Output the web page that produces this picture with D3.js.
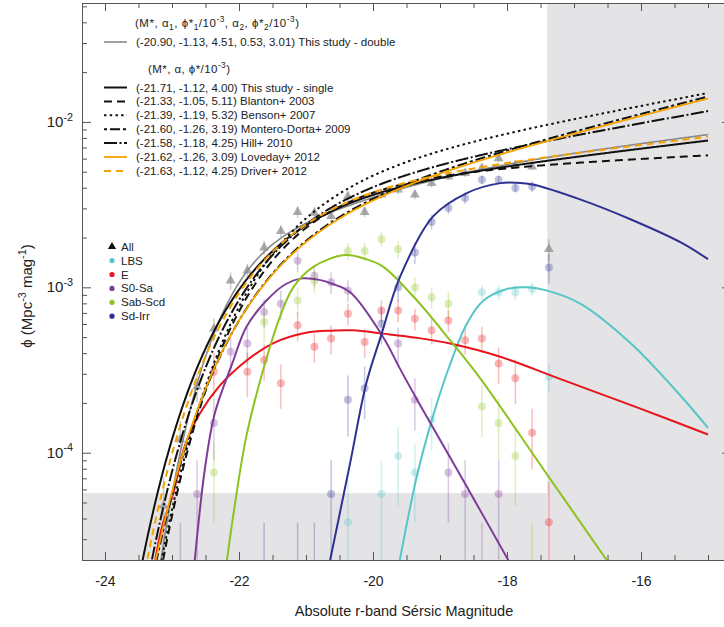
<!DOCTYPE html>
<html>
<head>
<meta charset="utf-8">
<script src="https://cdn.jsdelivr.net/npm/d3@7"></script>
<style>
  body { margin: 0; background: #fff; }
  text { font-family: "Liberation Sans", Arial, Helvetica, sans-serif; fill: #222; }
</style>
</head>
<body>
<svg id="chart" width="724" height="627"></svg>
<script>
// ---- published Schechter fits (legend values) ----
const fitNames = ["This study - single", "Blanton+ 2003", "Benson+ 2007", "Montero-Dorta+ 2009", "Hill+ 2010", "Loveday+ 2012", "Driver+ 2012"];
const fitMstar = [-21.71, -21.33, -21.39, -21.60, -21.58, -21.62, -21.63];
const fitAlpha = [-1.12, -1.05, -1.19, -1.26, -1.18, -1.26, -1.12];
const fitPhiStar = [4.00, 5.11, 5.32, 3.19, 4.25, 3.09, 4.25];   // x 1e-3
// double Schechter: M*, alpha1, phi1*/1e-3, alpha2, phi2*/1e-3
const doubleFit = [-20.90, -1.13, 4.51, 0.53, 3.01];

// ---- morphology fits (M, log10 phi) ----
const lbsCurve = [[-19.60, -4.65], [-19.35, -4.15], [-19.12, -3.80], [-18.88, -3.50], [-18.60, -3.22], [-18.35, -3.08], [-18.00, -3.01], [-17.70, -3.00], [-17.40, -3.02], [-16.90, -3.10], [-16.15, -3.34], [-15.40, -3.66], [-15.00, -3.85]];
const eCurve = [[-23.25, -4.65], [-23.15, -4.45], [-22.98, -4.245], [-22.81, -3.96], [-22.58, -3.76], [-22.30, -3.60], [-22.00, -3.48], [-21.50, -3.34], [-21.00, -3.275], [-20.60, -3.262], [-20.30, -3.26], [-19.85, -3.28], [-19.35, -3.305], [-18.85, -3.34], [-18.10, -3.42], [-17.20, -3.555], [-16.10, -3.72], [-15.00, -3.89]];
const s0saCurve = [[-22.66, -4.65], [-22.51, -4.10], [-22.36, -3.76], [-22.10, -3.46], [-21.89, -3.24], [-21.59, -3.08], [-21.30, -2.98], [-21.06, -2.946], [-20.80, -2.955], [-20.60, -2.98], [-20.34, -3.03], [-19.85, -3.30], [-19.60, -3.49], [-19.30, -3.71], [-18.65, -4.17], [-17.98, -4.65]];
const sabCurve = [[-22.18, -4.65], [-22.06, -4.31], [-21.89, -3.90], [-21.64, -3.50], [-21.39, -3.18], [-21.19, -3.00], [-20.89, -2.876], [-20.42, -2.805], [-20.10, -2.83], [-19.85, -2.875], [-19.35, -3.077], [-18.85, -3.32], [-18.40, -3.55], [-17.38, -4.145], [-16.51, -4.65]];
const sdCurve = [[-20.64, -4.65], [-20.34, -4.06], [-20.10, -3.58], [-19.87, -3.28], [-19.60, -2.94], [-19.10, -2.57], [-18.60, -2.43], [-18.10, -2.37], [-17.85, -2.368], [-17.60, -2.38], [-16.90, -2.47], [-16.15, -2.59], [-15.40, -2.73], [-15.00, -2.83]];

// ---- binned data points (M, log10 phi, relative error) ----
const allM = [-23.125, -22.875, -22.625, -22.375, -22.125, -21.875, -21.625, -21.375, -21.125, -20.875, -20.625, -20.375, -20.125, -19.875, -19.625, -19.375, -19.125, -18.875, -18.625, -18.375, -18.125, -17.875, -17.625, -17.375];
const allPhi = [-4.32, -3.92, -3.60, -3.25, -2.96, -2.90, -2.76, -2.66, -2.545, -2.55, -2.57, -2.45, -2.545, -2.44, -2.41, -2.44, -2.37, -2.33, -2.31, -2.28, -2.22, -2.26, -2.27, -2.77];
const allErr = [0.5, 0.3, 0.2, 0.15, 0.12, 0.1, 0.1, 0.08, 0.08, 0.08, 0.07, 0.07, 0.07, 0.06, 0.06, 0.06, 0.06, 0.05, 0.05, 0.05, 0.05, 0.05, 0.05, 0.15];

const lbsM = [-20.375, -19.875, -19.625, -19.375, -19.125, -18.375, -18.125, -17.875, -17.625, -17.375];
const lbsPhi = [-4.42, -4.25, -4.02, -4.12, -3.80, -3.03, -3.03, -3.03, -3.01, -3.54];
const lbsErr = [0.8, 0.6, 0.5, 0.5, 0.35, 0.1, 0.1, 0.1, 0.1, 0.2];

const eM = [-22.375, -21.875, -21.625, -21.375, -21.125, -20.875, -20.625, -20.375, -20.125, -19.875, -19.625, -19.375, -19.125, -18.875, -18.625, -18.375, -18.125, -17.875, -17.625, -17.375];
const ePhi = [-3.51, -3.51, -3.44, -3.58, -3.23, -3.36, -3.31, -3.16, -3.33, -3.14, -3.14, -3.19, -3.26, -3.20, -3.32, -3.31, -3.46, -3.55, -3.88, -4.42];
const eErr = [0.3, 0.3, 0.25, 0.3, 0.2, 0.2, 0.2, 0.15, 0.2, 0.15, 0.15, 0.15, 0.18, 0.15, 0.18, 0.18, 0.25, 0.3, 0.4, 0.75];

const s0saM = [-22.875, -22.625, -22.375, -22.125, -21.875, -21.625, -21.375, -21.125, -20.875, -20.625, -20.375, -19.625, -19.375, -18.875, -18.625, -18.375, -18.125];
const s0saPhi = [-4.9, -4.25, -3.82, -3.39, -3.34, -3.15, -3.10, -2.84, -2.93, -2.97, -3.02, -3.34, -3.68, -4.12, -4.25, -4.9, -4.25];
const s0saErr = [2, 0.6, 0.4, 0.25, 0.25, 0.2, 0.2, 0.15, 0.15, 0.15, 0.15, 0.25, 0.35, 0.5, 0.6, 2, 0.6];

const sabM = [-22.375, -21.625, -21.125, -20.875, -20.375, -20.125, -19.875, -19.625, -19.375, -19.125, -18.875, -18.375, -18.125, -17.875, -17.625];
const sabPhi = [-4.12, -3.21, -3.08, -2.96, -2.78, -2.78, -2.71, -2.77, -3.00, -3.06, -3.10, -3.72, -3.82, -4.02, -4.9];
const sabErr = [0.5, 0.25, 0.2, 0.15, 0.12, 0.12, 0.1, 0.12, 0.15, 0.15, 0.18, 0.35, 0.4, 0.5, 2];

const sdM = [-21.625, -21.125, -20.875, -20.625, -20.375, -20.125, -19.875, -19.625, -19.375, -19.125, -18.875, -18.625, -18.375, -18.125, -17.875, -17.625, -17.375];
const sdPhi = [-4.9, -4.9, -4.9, -4.25, -3.68, -3.61, -3.22, -3.00, -2.79, -2.605, -2.52, -2.46, -2.35, -2.35, -2.40, -2.39, -2.88];
const sdErr = [2, 2, 2, 0.6, 0.4, 0.35, 0.25, 0.18, 0.15, 0.1, 0.08, 0.08, 0.06, 0.06, 0.06, 0.07, 0.2];

const morphLabels = ["All", "LBS", "E", "S0-Sa", "Sab-Scd", "Sd-Irr"];
const completeM = -17.4;      // faint limit, shaded beyond
const completePhi = 5.7e-5;   // density limit, shaded below

// ---- layout ----
const pL = 82, pR = 730, pT = 3, pB = 560;
const svg = d3.select("#chart");
const x = d3.scaleLinear().domain([-24.343, -14.672]).range([pL, pR]);
const yMin = Math.pow(10, -4.6487), yMax = Math.pow(10, -1.281);
const y = d3.scaleLog().domain([yMin, yMax]).range([pB, pT]);

const colors = {lbs: "#55c5c8", e: "#e8141c", s0sa: "#7d3c98", sab: "#8dc21f", sd: "#2e3192", all: "#8f8f8f", orange: "#f5a200"};

svg.append("defs").append("clipPath").attr("id", "plotclip")
  .append("rect").attr("x", pL).attr("y", pT).attr("width", pR - pL).attr("height", pB - pT);

// shaded incomplete regions
svg.append("rect").attr("x", x(completeM)).attr("y", pT)
  .attr("width", pR - x(completeM)).attr("height", pB - pT).attr("fill", "#e4e4e6");
svg.append("rect").attr("x", pL).attr("y", y(completePhi))
  .attr("width", x(completeM) - pL).attr("height", pB - y(completePhi)).attr("fill", "#e4e4e6");

const plotG = svg.append("g").attr("clip-path", "url(#plotclip)");

function drawPoints(M, logPhi, relErr, color, tri) {
  const data = M.map((m, i) => ({m: m, v: Math.pow(10, logPhi[i]), r: relErr[i]}));
  const g = plotG.append("g");
  g.selectAll(null).data(data).enter().append("line")
    .attr("x1", d => x(d.m)).attr("x2", d => x(d.m))
    .attr("y1", d => y(Math.max(d.v * (1 - d.r), yMin * 0.5)))
    .attr("y2", d => y(d.v * (1 + d.r)))
    .attr("stroke", color).attr("stroke-opacity", tri ? 0.45 : 0.28).attr("stroke-width", 1.5);
  if (tri) {
    g.selectAll(null).data(data).enter().append("path")
      .attr("d", d3.symbol(d3.symbolTriangle, 42))
      .attr("transform", d => `translate(${x(d.m)},${y(d.v)})`)
      .attr("fill", color).attr("fill-opacity", 0.75);
  } else {
    g.selectAll(null).data(data).enter().append("circle")
      .attr("cx", d => x(d.m)).attr("cy", d => y(d.v)).attr("r", 4)
      .attr("fill", color).attr("fill-opacity", 0.3);
  }
}
drawPoints(allM, allPhi, allErr, colors.all, true);
drawPoints(lbsM, lbsPhi, lbsErr, colors.lbs, false);
drawPoints(eM, ePhi, eErr, colors.e, false);
drawPoints(s0saM, s0saPhi, s0saErr, colors.s0sa, false);
drawPoints(sabM, sabPhi, sabErr, colors.sab, false);
drawPoints(sdM, sdPhi, sdErr, colors.sd, false);

// morphology fit curves
const morphLine = d3.line().x(d => x(d[0])).y(d => y(Math.pow(10, d[1]))).curve(d3.curveCatmullRom.alpha(0.5));
[[lbsCurve, colors.lbs], [eCurve, colors.e], [s0saCurve, colors.s0sa], [sabCurve, colors.sab], [sdCurve, colors.sd]]
  .forEach(([c, col]) => {
    plotG.append("path").datum(c).attr("d", morphLine)
      .attr("fill", "none").attr("stroke", col).attr("stroke-width", 2);
  });

// Schechter fits
function schechter(M, Ms, a, p) {
  const L = Math.pow(10, 0.4 * (Ms - M));
  return 0.4 * Math.LN10 * p * 1e-3 * Math.pow(L, a + 1) * Math.exp(-L);
}
const mGrid = d3.range(-24.34, -15.0001, 0.02).concat([-15]);
const fitLine = d3.line().x(d => x(d[0])).y(d => y(d[1]));

const dbl = mGrid.map(m => [m, schechter(m, doubleFit[0], doubleFit[1], doubleFit[2]) + schechter(m, doubleFit[0], doubleFit[3], doubleFit[4])]);
plotG.append("path").datum(dbl).attr("d", fitLine)
  .attr("fill", "none").attr("stroke", "#8a8a8a").attr("stroke-width", 1.6);

const fitStroke = ["#111", "#111", "#111", "#111", "#111", colors.orange, colors.orange];
const fitDash = [null, "8,5", "2.5,3.2", "3,3,10,3", "13,2.5,2,2.5", null, "7,5"];
const fitWidth = [2, 2, 2, 2, 2, 1.8, 2];
const drawOrder = [1, 2, 3, 4, 0, 5, 6];
drawOrder.forEach(i => {
  const pts = mGrid.map(m => [m, schechter(m, fitMstar[i], fitAlpha[i], fitPhiStar[i])]);
  plotG.append("path").datum(pts).attr("d", fitLine)
    .attr("fill", "none").attr("stroke", fitStroke[i]).attr("stroke-width", fitWidth[i])
    .attr("stroke-dasharray", fitDash[i]);
});

// ---- axes ----
const axisColor = "#555";
const xMajor = [-24, -22, -20, -18, -16];
const xMinor = d3.range(-24, -14.9, 0.5).filter(v => xMajor.indexOf(v) < 0);
const yMajor = [1e-4, 1e-3, 1e-2];
const yMinor = [];
[-5, -4, -3, -2].forEach(e => d3.range(2, 10).forEach(k => {
  const v = k * Math.pow(10, e);
  if (v > yMin && v < yMax) yMinor.push(v);
}));

function styleAxis(g) {
  g.select(".domain").attr("stroke", axisColor);
  g.selectAll(".tick line").attr("stroke", axisColor);
}
svg.append("g").attr("transform", `translate(0,${pB})`)
  .call(d3.axisBottom(x).tickValues(xMajor).tickSize(-8).tickPadding(16).tickFormat(d3.format("d")))
  .call(styleAxis)
  .call(g => g.selectAll(".tick text").attr("font-size", 14).attr("fill", "#222")
    .style("font-family", '"Liberation Sans", Arial, sans-serif').text(d => "-" + Math.abs(d)));
svg.append("g").attr("transform", `translate(0,${pB})`)
  .call(d3.axisBottom(x).tickValues(xMinor).tickSize(-5).tickFormat(""))
  .call(styleAxis);
svg.append("g").attr("transform", `translate(0,${pT})`)
  .call(d3.axisTop(x).tickValues(xMajor).tickSize(-8).tickFormat(""))
  .call(styleAxis);
svg.append("g").attr("transform", `translate(0,${pT})`)
  .call(d3.axisTop(x).tickValues(xMinor).tickSize(-5).tickFormat(""))
  .call(styleAxis);
svg.append("g").attr("transform", `translate(${pL},0)`)
  .call(d3.axisLeft(y).tickValues(yMajor).tickSize(-9).tickFormat(""))
  .call(styleAxis);
svg.append("g").attr("transform", `translate(${pL},0)`)
  .call(d3.axisLeft(y).tickValues(yMinor).tickSize(-5).tickFormat(""))
  .call(styleAxis);
svg.append("g").attr("transform", `translate(${pR},0)`)
  .call(d3.axisRight(y).tickValues(yMajor).tickSize(-8).tickFormat(""))
  .call(styleAxis);
svg.append("g").attr("transform", `translate(${pR},0)`)
  .call(d3.axisRight(y).tickValues(yMinor).tickSize(-5).tickFormat(""))
  .call(styleAxis);

// rich text helper: parts = [text, shift] with shift 1 = superscript, -1 = subscript
function rich(sel, parts, size) {
  let off = 0;
  parts.forEach(([t, s]) => {
    const target = s > 0 ? -0.42 * size : s < 0 ? 0.25 * size : 0;
    sel.append("tspan").attr("dy", target - off)
      .attr("font-size", s ? size * 0.72 : size).text(t);
    off = target;
  });
}

yMajor.forEach(v => {
  const t = svg.append("text").attr("x", 73).attr("y", y(v) + 5).attr("text-anchor", "end");
  rich(t, [["10", 0], ["-" + Math.round(-Math.log10(v)), 1]], 15);
});

// axis titles
svg.append("text").attr("x", (pL + pR) / 2 - 2).attr("y", 616).attr("text-anchor", "middle")
  .attr("font-size", 14.5).text("Absolute r-band Sérsic Magnitude");
const yt = svg.append("text").attr("transform", "translate(32,296) rotate(-90)").attr("text-anchor", "middle");
rich(yt, [["ϕ (Mpc", 0], ["-3", 1], [" mag", 0], ["-1", 1], [")", 0]], 15);

// ---- legend: fits ----
const fs = 11.5;
const lx0 = 104, lx1 = 127, tx = 136;
const h1 = svg.append("text").attr("x", 135).attr("y", 27)
  .attr("textLength", 164).attr("lengthAdjust", "spacing");
rich(h1, [["(M*, α", 0], ["1", -1], [", ϕ*", 0], ["1", -1], ["/10", 0], ["-3", 1], [", α", 0], ["2", -1], [", ϕ*", 0], ["2", -1], ["/10", 0], ["-3", 1], [")", 0]], fs);

svg.append("line").attr("x1", lx0).attr("x2", lx1).attr("y1", 42).attr("y2", 42)
  .attr("stroke", "#8a8a8a").attr("stroke-width", 1.6);
svg.append("text").attr("x", tx).attr("y", 46).attr("font-size", fs)
  .text(`(${doubleFit.map(d => d.toFixed(2)).join(", ")}) This study - double`);

const h2 = svg.append("text").attr("x", 148).attr("y", 73)
  .attr("textLength", 82).attr("lengthAdjust", "spacing");
rich(h2, [["(M*, α, ϕ*/10", 0], ["-3", 1], [")", 0]], fs);

fitNames.forEach((name, i) => {
  const ly = 87.5 + i * 13.9;
  svg.append("line").attr("x1", lx0).attr("x2", lx1).attr("y1", ly).attr("y2", ly)
    .attr("stroke", fitStroke[i]).attr("stroke-width", fitWidth[i]).attr("stroke-dasharray", fitDash[i]);
  svg.append("text").attr("x", tx).attr("y", ly + 4).attr("font-size", fs)
    .text(`(${fitMstar[i].toFixed(2)}, ${fitAlpha[i].toFixed(2)}, ${fitPhiStar[i].toFixed(2)}) ${name}`);
});

// ---- legend: samples ----
const morphColors = ["#111", colors.lbs, colors.e, colors.s0sa, colors.sab, colors.sd];
morphLabels.forEach((lab, i) => {
  const ly = 246.7 + i * 13.9;
  if (i === 0) {
    svg.append("path").attr("d", d3.symbol(d3.symbolTriangle, 30))
      .attr("transform", `translate(112,${ly})`).attr("fill", morphColors[i]);
  } else {
    svg.append("circle").attr("cx", 112).attr("cy", ly).attr("r", 2.6).attr("fill", morphColors[i]);
  }
  svg.append("text").attr("x", 121).attr("y", ly + 4).attr("font-size", fs).text(lab);
});
</script>
</body>
</html>
